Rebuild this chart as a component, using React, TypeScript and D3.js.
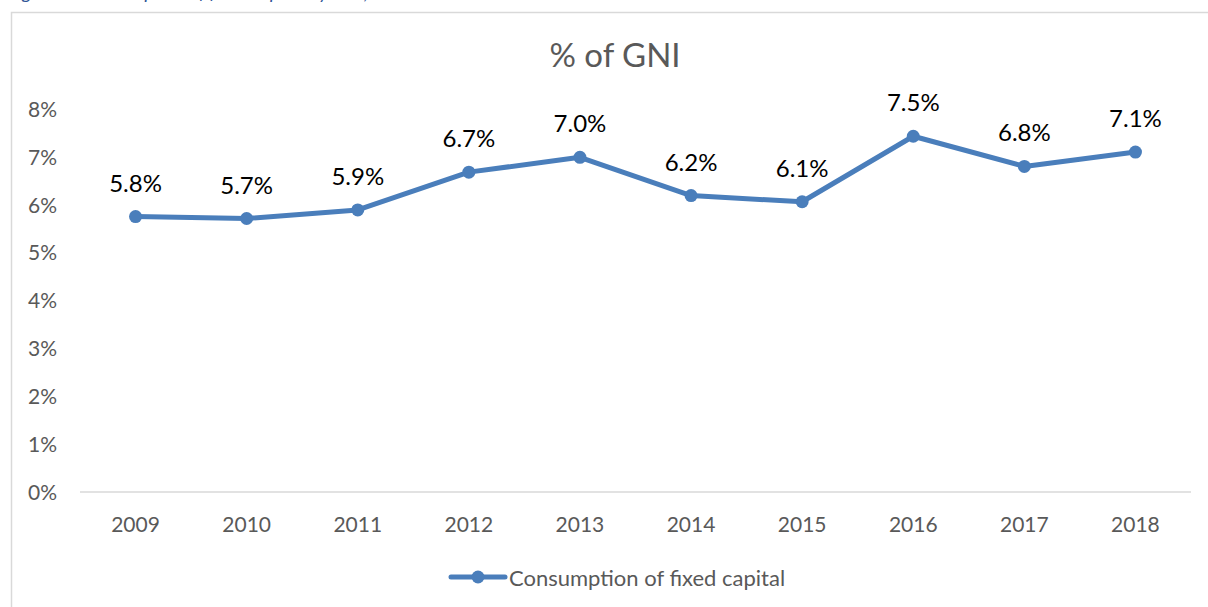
import React from "react";
import * as d3 from "d3";

const years = ["2009", "2010", "2011", "2012", "2013", "2014", "2015", "2016", "2017", "2018"];
const values = [5.76, 5.72, 5.9, 6.69, 7.0, 6.2, 6.07, 7.44, 6.81, 7.11];
const labels = ["5.8%", "5.7%", "5.9%", "6.7%", "7.0%", "6.2%", "6.1%", "7.5%", "6.8%", "7.1%"];
const yTicks = [0, 1, 2, 3, 4, 5, 6, 7, 8];
const title = "% of GNI";
const seriesName = "Consumption of fixed capital";
const caption = "Figure 6. Consumption of fixed capital by GNI, 2009-2018";

const W = 1208;
const H = 607;
const FONT = "Lato, 'Open Sans', 'Noto Sans', sans-serif";
const BLUE = "#4A7EBB";
const GRAY = "#595959";

export default function App() {
  const x = d3.scaleBand<string>().domain(years).range([80, 1191]);
  const y = d3.scaleLinear().domain([0, 8]).range([492, 109.5]);
  const cx = (d: string) => (x(d) ?? 0) + x.bandwidth() / 2;
  const line = d3
    .line<number>()
    .x((_, i) => cx(years[i]))
    .y((d) => y(d));

  return (
    <svg
      width={W}
      height={H}
      style={{ position: "absolute", left: 0, top: 0, background: "#fff" }}
      fontFamily={FONT}
    >
      <text x={8} y={-1} fill="#2F5496" fontSize={19} fontStyle="italic">
        {caption}
      </text>
      {/* chart border */}
      <path d={`M11.5,${H + 2} V12.5 H${W + 2}`} fill="none" stroke="#D9D9D9" strokeWidth={1.5} />
      <text x={615} y={67} textAnchor="middle" fill={GRAY} fontSize={33}>
        {title}
      </text>
      {yTicks.map((t) => (
        <text key={t} x={57} y={y(t)} dy="0.36em" textAnchor="end" fill={GRAY} fontSize={21}>
          {t}%
        </text>
      ))}
      <line x1={80} x2={1191} y1={y(0)} y2={y(0)} stroke="#D9D9D9" strokeWidth={1.5} />
      {years.map((yr) => (
        <text key={yr} x={cx(yr)} y={532} textAnchor="middle" fill={GRAY} fontSize={21}>
          {yr}
        </text>
      ))}
      <path d={line(values) ?? ""} fill="none" stroke={BLUE} strokeWidth={5} strokeLinejoin="round" />
      {values.map((v, i) => (
        <circle key={i} cx={cx(years[i])} cy={y(v)} r={6.5} fill={BLUE} />
      ))}
      {values.map((v, i) => (
        <text key={"l" + i} x={cx(years[i])} y={y(v) - 25} textAnchor="middle" fill="#000" fontSize={24}>
          {labels[i]}
        </text>
      ))}
      {/* legend */}
      <line x1={451} x2={505} y1={577} y2={577} stroke={BLUE} strokeWidth={5} strokeLinecap="round" />
      <circle cx={478} cy={577} r={6.5} fill={BLUE} />
      <text x={509} y={578} dy="0.35em" fill={GRAY} fontSize={22}>
        {seriesName}
      </text>
    </svg>
  );
}
